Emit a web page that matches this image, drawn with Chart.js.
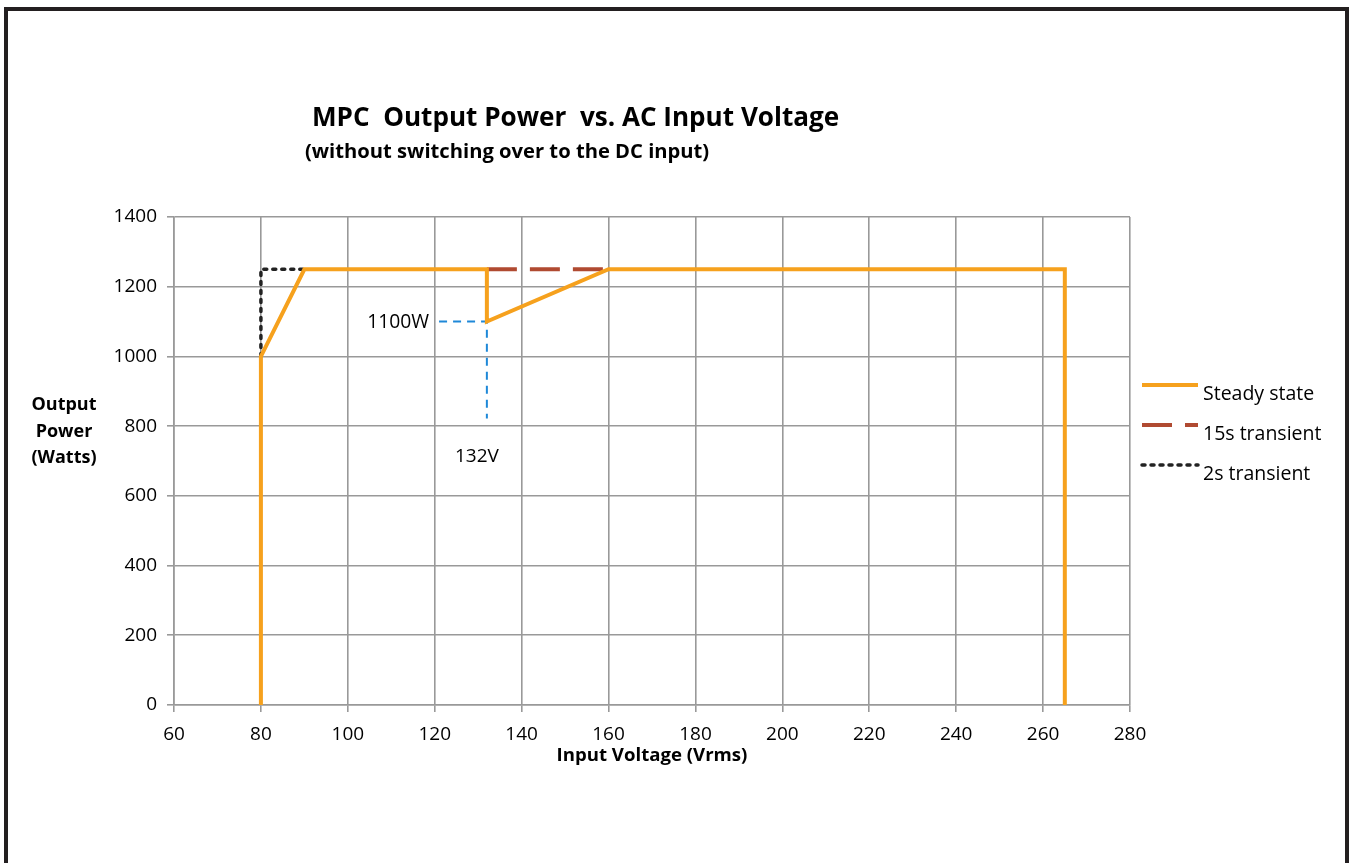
<!DOCTYPE html>
<html>
<head>
<meta charset="utf-8">
<script src="https://cdn.jsdelivr.net/npm/chart.js@4.4.1/dist/chart.umd.min.js"></script>
<style>
  html, body { margin: 0; padding: 0; background: #fff; }
  #wrap { position: relative; width: 1349px; height: 863px; }
</style>
</head>
<body>
<div id="wrap"><canvas id="mpcChart" width="1349" height="863"></canvas></div>
<script>
// * data
const steadyX = [80, 80, 90, 132, 132, 160, 265, 265];
const steadyY = [0, 1000, 1250, 1250, 1100, 1250, 1250, 0];
const transient15X = [132, 160];
const transient15Y = [1250, 1250];
const transient2X = [80, 80, 90];
const transient2Y = [1000, 1250, 1250];
const markerX = [121, 132, 132];
const markerY = [1100, 1100, 822];
const xTicks = [60, 80, 100, 120, 140, 160, 180, 200, 220, 240, 260, 280];
const yTicks = [0, 200, 400, 600, 800, 1000, 1200, 1400];

const FONT = "'Open Sans', Lato, sans-serif";
const GRID = "#999999";

const toPoints = (xs, ys) => xs.map((x, i) => ({ x: x, y: ys[i] }));

// font size that makes `text` span `width` px
function fitSize(ctx, text, width, weight) {
  ctx.font = weight + " 100px " + FONT;
  return (100 * width) / ctx.measureText(text).width;
}

function drawText(ctx, text, x, y, size, weight, align) {
  ctx.font = weight + " " + size.toFixed(1) + "px " + FONT;
  ctx.textAlign = align;
  ctx.fillText(text, x, y);
}

// * decorations: titles, annotations, legend, frame
const decor = {
  id: "decor",
  afterDraw(chart) {
    const ctx = chart.ctx;
    const xs = chart.scales.x;
    const ys = chart.scales.y;
    ctx.save();
    ctx.fillStyle = "#000";
    ctx.textBaseline = "middle";

    const title = "MPC  Output Power  vs. AC Input Voltage";
    drawText(ctx, title, 312, 119, fitSize(ctx, title, 528, "bold"), "bold", "left");
    const sub = "(without switching over to the DC input)";
    drawText(ctx, sub, 305, 152, fitSize(ctx, sub, 405, "bold"), "bold", "left");

    const yt = fitSize(ctx, "(Watts)", 65, "bold");
    drawText(ctx, "Output", 64, 405, yt, "bold", "center");
    drawText(ctx, "Power", 64, 432, yt, "bold", "center");
    drawText(ctx, "(Watts)", 64, 458, yt, "bold", "center");
    const xt = "Input Voltage (Vrms)";
    drawText(ctx, xt, (xs.left + xs.right) / 2, 756, fitSize(ctx, xt, 191, "bold"), "bold", "center");

    drawText(ctx, "1100W", xs.getPixelForValue(markerX[0]) - 10, ys.getPixelForValue(1100) + 1,
      fitSize(ctx, "1100W", 62, "normal"), "normal", "right");
    drawText(ctx, "132V", xs.getPixelForValue(132) - 10, ys.getPixelForValue(714),
      fitSize(ctx, "132V", 44, "normal"), "normal", "center");

    // legend
    const items = chart.data.datasets.filter(d => !d.hideLegend);
    const lt = fitSize(ctx, items[0].label, 111, "normal");
    items.forEach((d, i) => {
      const ly = 385 + i * 40;
      ctx.beginPath();
      ctx.strokeStyle = d.borderColor;
      ctx.lineWidth = d.borderWidth;
      ctx.lineCap = d.borderCapStyle || "butt";
      ctx.setLineDash(d.borderDash || []);
      ctx.moveTo(1142, ly);
      ctx.lineTo(1198, ly);
      ctx.stroke();
      ctx.setLineDash([]);
      ctx.fillStyle = "#000";
      drawText(ctx, d.label, 1203, ly + 9, lt, "normal", "left");
    });

    // frame
    ctx.fillStyle = "#231f20";
    ctx.fillRect(4, 7, 1345, 4);
    ctx.fillRect(4, 7, 4, 856);
    ctx.fillRect(1345, 7, 4, 856);
    ctx.restore();
  },
};

const data = {
  datasets: [
    {
      label: "Steady state",
      data: toPoints(steadyX, steadyY),
      borderColor: "#f6a11d",
      borderWidth: 4,
      borderJoinStyle: "miter",
    },
    {
      label: "15s transient",
      data: toPoints(transient15X, transient15Y),
      borderColor: "#b04a31",
      borderWidth: 4,
      borderDash: [30, 13],
    },
    {
      label: "2s transient",
      data: toPoints(transient2X, transient2Y),
      borderColor: "#222222",
      borderWidth: 3.5,
      borderDash: [3, 6],
      borderCapStyle: "round",
    },
    {
      label: "marker",
      hideLegend: true,
      data: toPoints(markerX, markerY),
      borderColor: "#1e88d8",
      borderWidth: 2,
      borderDash: [8, 6],
    },
  ],
};

const tickFont = { family: FONT, size: 19 };

const config = {
  type: "line",
  data: data,
  options: {
    responsive: false,
    animation: false,
    layout: { padding: { left: 0, top: 217, right: 219, bottom: 98 } },
    elements: { point: { radius: 0 }, line: { tension: 0 } },
    plugins: {
      legend: { display: false },
      tooltip: { enabled: false },
    },
    scales: {
      x: {
        type: "linear",
        min: 60,
        max: 280,
        afterBuildTicks: (s) => { s.ticks = xTicks.map(v => ({ value: v })); },
        afterFit: (s) => { s.height = 60; },
        ticks: { color: "#000", font: tickFont, padding: 11, callback: (v) => String(v) },
        grid: { color: GRID, lineWidth: 1.6, tickLength: 7 },
        border: { color: GRID, width: 1.6 },
      },
      y: {
        min: 0,
        max: 1400,
        afterBuildTicks: (s) => { s.ticks = yTicks.map(v => ({ value: v })); },
        afterFit: (s) => { s.width = 174; },
        ticks: { color: "#000", font: tickFont, padding: 10, callback: (v) => String(v) },
        grid: { color: GRID, lineWidth: 1.6, tickLength: 7 },
        border: { color: GRID, width: 1.6 },
      },
    },
  },
  plugins: [decor],
};

const ctxChart = document.getElementById("mpcChart").getContext("2d");
new Chart(ctxChart, config);
</script>
</body>
</html>
